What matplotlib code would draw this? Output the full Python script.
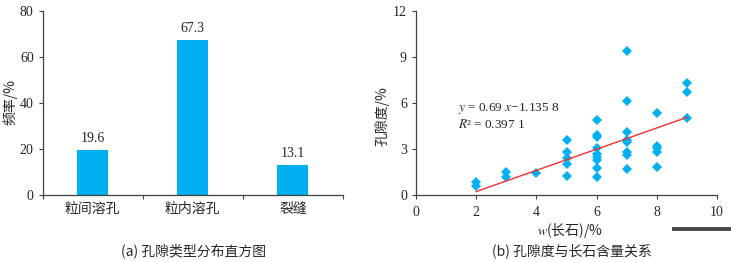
import matplotlib
matplotlib.use("Agg")
import matplotlib.pyplot as plt
from matplotlib.lines import Line2D

plt.rcParams['font.family'] = ['Liberation Serif', 'Noto Sans CJK SC']
plt.rcParams['mathtext.fontset'] = 'stix'

# ── Datos ─────────────────────────────────────────────────────────────────────
categorias = ["粒间溶孔", "粒内溶孔", "裂缝"]
frecuencia = [19.6, 67.3, 13.1]

feldespato = [2, 2,
              3, 3,
              4,
              5, 5, 5, 5, 5,
              6, 6, 6, 6, 6, 6, 6, 6, 6,
              7, 7, 7, 7, 7, 7, 7, 7,
              8, 8, 8, 8, 8,
              9, 9, 9]
porosidad = [0.89, 0.61,
             1.54, 1.22,
             1.43,
             3.58, 2.84, 2.40, 2.07, 1.25,
             4.91, 3.93, 3.78, 3.08, 2.70, 2.50, 2.30, 1.78, 1.17,
             9.41, 6.15, 4.11, 3.63, 3.50, 2.84, 2.60, 1.74,
             5.34, 3.22, 3.07, 2.82, 1.87,
             7.34, 6.70, 5.06]
pendiente, ordenada = 0.69, -1.1358
x_ajuste = [2, 9]

AZUL = "#00b0f0"
ROJO = "#f03030"
EJE = "#404040"
TXT = "#262626"
CJK = ['Noto Sans CJK SC', 'DejaVu Sans']

fig = plt.figure(figsize=(7.31, 2.62), dpi=100)


def estilo(ax):
    for s in ("top", "right"):
        ax.spines[s].set_visible(False)
    for s in ("left", "bottom"):
        ax.spines[s].set_color(EJE)
        ax.spines[s].set_linewidth(0.9)
    ax.tick_params(direction="out", length=3, width=0.8, colors=EJE,
                   labelcolor=TXT, labelsize=10)


# ── Panel (a): histograma ────────────────────────────────────────────────────
ax1 = fig.add_axes([0.0584, 0.2557, 0.4106, 0.7033])
estilo(ax1)
pos = list(range(len(categorias)))
ax1.bar(pos, frecuencia, width=0.31, color=AZUL)
for p, v in zip(pos, frecuencia):
    ax1.text(p, v + 2.0, f"{v:.1f}", ha="center", va="bottom", fontsize=10, color=TXT)
ax1.set_xlim(-0.5, 2.5)
ax1.set_ylim(0, 80)
ax1.set_yticks([0, 20, 40, 60, 80])
ax1.set_xticks([-0.5, 0.5, 1.5, 2.5])
ax1.set_xticklabels([])
ax1.set_xticks(pos, minor=True)
ax1.set_xticklabels(categorias, minor=True, family=CJK, fontsize=10)
ax1.tick_params(axis="x", which="minor", length=0, pad=5, labelcolor=TXT)
fig.text(0.014, 0.61, "频率/%", rotation=90, ha="center", va="center",
         family=CJK, fontsize=10, color=TXT)
fig.text(0.265, 0.042, "(a) 孔隙类型分布直方图", ha="center", va="center",
         family=CJK, fontsize=10, color=TXT)

# ── Panel (b): dispersión ────────────────────────────────────────────────────
ax2 = fig.add_axes([0.569, 0.2546, 0.412, 0.7034])
estilo(ax2)
ax2.plot(feldespato, porosidad, linestyle="none", marker="D", markersize=5.4,
         color=AZUL, markeredgewidth=0)
ax2.plot(x_ajuste, [pendiente * x + ordenada for x in x_ajuste],
         color=ROJO, linewidth=1.0)
ax2.set_xlim(0, 10)
ax2.set_ylim(0, 12)
ax2.set_xticks([0, 2, 4, 6, 8, 10])
ax2.set_yticks([0, 3, 6, 9, 12])
ax2.tick_params(axis="x", pad=5)
ax2.text(1.38, 5.66, r"$y$ = 0.69 $x$−1.135 8", fontsize=9.5, color=TXT,
         va="center", ha="left")
ax2.text(1.38, 4.62, r"$R$² = 0.397 1", fontsize=9.5, color=TXT,
         va="center", ha="left")
fig.text(0.5226, 0.557, "孔隙度/%", rotation=90, ha="center", va="center",
         family=CJK, fontsize=10, color=TXT)
fig.text(0.780, 0.122, r"$w$(长石)/%", ha="center", va="center",
         family=CJK, fontsize=10, color=TXT)
fig.text(0.782, 0.042, "(b) 孔隙度与长石含量关系", ha="center", va="center",
         family=CJK, fontsize=10, color=TXT)

# barra oscura de la esquina inferior derecha
fig.add_artist(Line2D([674 / 731, 1.0], [1 - 229.3 / 262] * 2,
                      transform=fig.transFigure, color="#4a4646", linewidth=2.8))

fig.savefig("out.png", dpi=100, facecolor="white")
